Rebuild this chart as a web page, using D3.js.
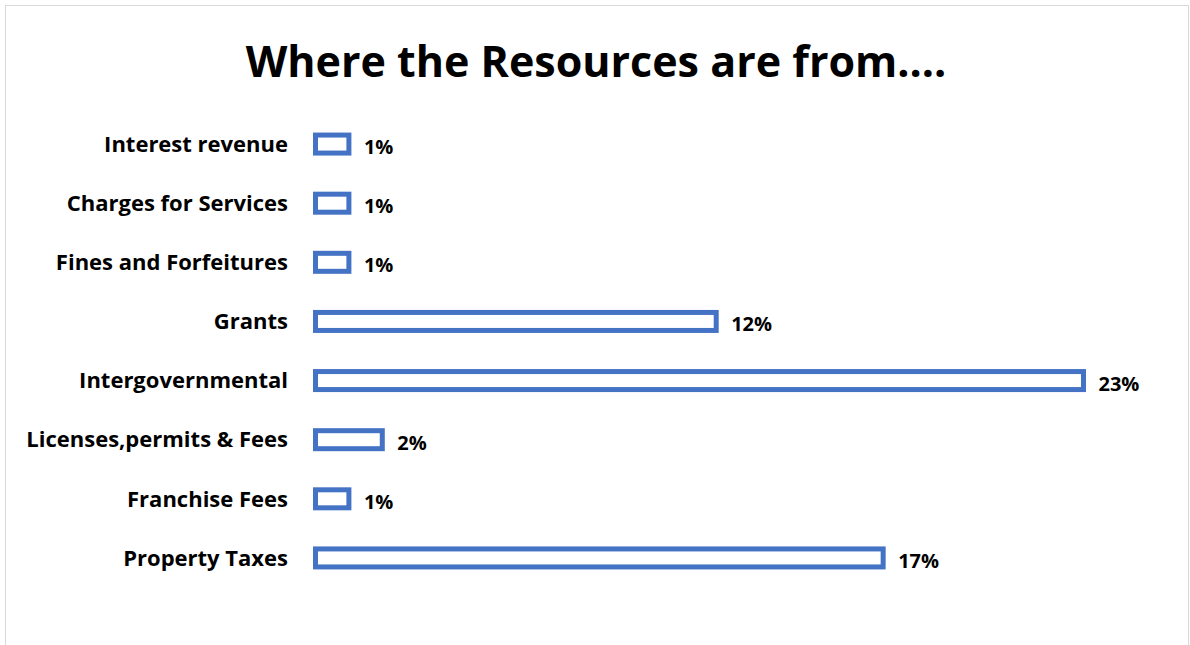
<!DOCTYPE html>
<html>
<head>
<meta charset="utf-8">
<script src="https://cdn.jsdelivr.net/npm/d3@7/dist/d3.min.js"></script>
<style>
  html, body { margin: 0; padding: 0; background: #ffffff; }
  svg { display: block; }
  text { font-family: "Open Sans", Lato, sans-serif; font-weight: 700; fill: #000; }
</style>
</head>
<body>
<svg id="chart" width="1190" height="645"></svg>
<script>
// Revenue sources, top to bottom, with their share in percent
const categories = [
  "Interest revenue",
  "Charges for Services",
  "Fines and Forfeitures",
  "Grants",
  "Intergovernmental",
  "Licenses,permits & Fees",
  "Franchise Fees",
  "Property Taxes"
];
const shares = [1, 1, 1, 12, 23, 2, 1, 17];
const valueLabels = ["1%", "1%", "1%", "12%", "23%", "2%", "1%", "17%"];
const chartTitle = "Where the Resources are from....";

const svg = d3.select("#chart");
const W = 1190, H = 645;

// chart frame
svg.append("rect")
  .attr("x", 5.5).attr("y", 5.5)
  .attr("width", W - 7).attr("height", H + 10)
  .attr("fill", "#fff").attr("stroke", "#d9d9d9").attr("stroke-width", 1);

svg.append("text")
  .attr("x", 596).attr("y", 77)
  .attr("text-anchor", "middle")
  .style("font-size", "43px")
  .text(chartTitle);

const x = d3.scaleLinear().domain([0, 23]).range([315.5, 1083.5]);
const y = d3.scaleBand().domain(categories).range([114.5, 587.5]).paddingInner(0.69).paddingOuter(0.345);

const rows = categories.map((c, i) => ({ c, v: shares[i], label: valueLabels[i] }));

const barH = 18;
const g = svg.append("g");

g.selectAll("rect.bar").data(rows).join("rect")
  .attr("class", "bar")
  .attr("x", x(0))
  .attr("y", d => y(d.c) + y.bandwidth() / 2 - barH / 2)
  .attr("width", d => x(d.v) - x(0))
  .attr("height", barH)
  .attr("fill", "#ffffff")
  .attr("stroke", "#4472c4")
  .attr("stroke-width", 5);

// category axis on the left, no line or ticks
const yAxis = d3.axisLeft(y).tickSize(0).tickPadding(0);
const ay = svg.append("g").attr("transform", "translate(288,0)").call(yAxis);
ay.select(".domain").remove();
ay.selectAll("text")
  .style("font-size", "22px")
  .style("font-family", "'Open Sans', sans-serif")
  .style("font-weight", "700")
  .attr("fill", "#000")
  .attr("dy", "0.35em");

g.selectAll("text.val").data(rows).join("text")
  .attr("class", "val")
  .attr("x", d => x(d.v) + 15)
  .attr("y", d => y(d.c) + y.bandwidth() / 2 + 3)
  .attr("dy", "0.35em")
  .style("font-size", "20px")
  .text(d => d.label);
</script>
</body>
</html>
